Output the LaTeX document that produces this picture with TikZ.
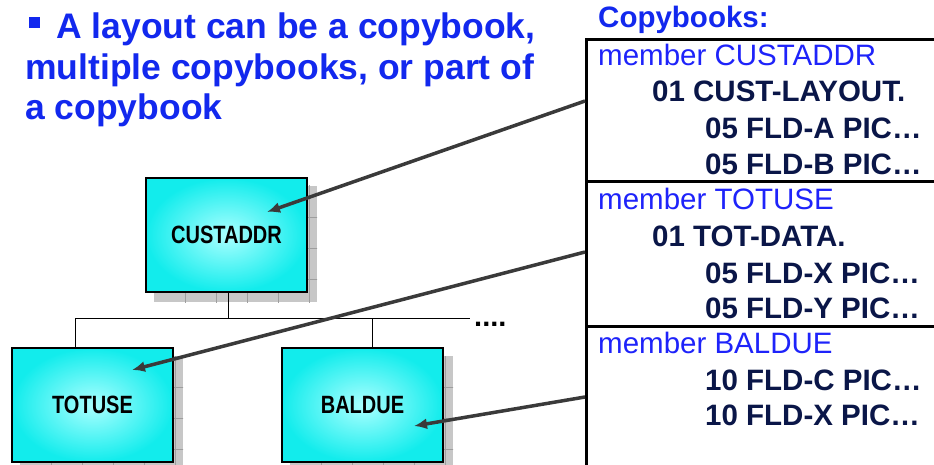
\documentclass[tikz,border=0pt]{standalone}
\usepackage{fontspec}
\setmainfont{Liberation Sans}
\newfontfamily\narrowfont[FakeStretch=0.8]{Liberation Sans}
\usetikzlibrary{arrows.meta,backgrounds}
\definecolor{titleblue}{RGB}{18,40,238}
\definecolor{memblue}{RGB}{30,35,250}
\definecolor{codenavy}{RGB}{10,22,72}
\definecolor{arrgray}{RGB}{58,58,58}
\definecolor{cyanedge}{RGB}{18,236,236}
\definecolor{cyanmid}{RGB}{170,255,255}
\tikzset{
  titletxt/.style={anchor=base west,inner sep=0pt,text=titleblue,font=\fontsize{35.5}{42}\selectfont\bfseries},
  memtxt/.style={anchor=base west,inner sep=0pt,text=memblue,font=\fontsize{29.5}{34}\selectfont},
  codetxt/.style={anchor=base west,inner sep=0pt,text=codenavy,font=\fontsize{29.5}{34}\selectfont\bfseries},
  layoutbox/.style={draw=black,line width=2pt,minimum width=161pt,minimum height=114pt,inner sep=0pt,
     inner color=cyanmid,outer color=cyanedge,font=\narrowfont\fontsize{25}{30}\selectfont\bfseries},
  treeline/.style={draw=black,line width=1pt},
  panelline/.style={draw=black,line width=3pt},
  arr/.style={draw=arrgray,line width=3.5pt,-{Latex[length=13pt,width=11pt]}},
  shadowfill/.style={fill=black!22},
  shadowgrid/.style={draw=black!38,line width=0.7pt}
}
\newcommand{\boxshadow}[1]{%
  \begin{scope}
    \path[shadowfill] ([shift={(9,9)}]#1.north west) rectangle ([shift={(9,9)}]#1.south east);
    \clip ([shift={(9,9)}]#1.north west) rectangle ([shift={(9,9)}]#1.south east);
    \foreach \k in {1,...,5} {
      \draw[shadowgrid] ([shift={(9+31*\k,0)}]#1.north west) -- ([shift={(9+31*\k,200)}]#1.north west);
    }
    \foreach \k in {1,...,3} {
      \draw[shadowgrid] ([shift={(0,9+31*\k)}]#1.north west) -- ([shift={(200,9+31*\k)}]#1.north west);
    }
  \end{scope}}
\begin{document}
\begin{tikzpicture}[x=1pt,y=-1pt]
\useasboundingbox (0,0) rectangle (934,465);
% title
\path[fill=titleblue] (29,17) rectangle (40,28);
\node[titletxt] (t1) at (56,39) {A layout can be a copybook,};
\node[titletxt] (t2) at (25,80) {multiple copybooks, or part of};
\node[titletxt] (t3) at (25,120) {a copybook};
% layout boxes
\node[layoutbox] (cust) at (226.5,235) {CUSTADDR};
\node[layoutbox] (tot) at (92.5,405) {TOTUSE};
\node[layoutbox] (bal) at (362.5,405) {BALDUE};
\begin{scope}[on background layer]
  \boxshadow{cust}
  \boxshadow{tot}
  \boxshadow{bal}
\end{scope}
% tree
\coordinate (busL) at (75,318);
\coordinate (busC) at (228,318);
\coordinate (busB) at (372,318);
\coordinate (busR) at (470,318);
\draw[treeline] (busL) -- (busR);
\draw[treeline] (cust.south -| busC) -- (busC);
\draw[treeline] (busL) -- (busL |- tot.north);
\draw[treeline] (busB) -- (busB |- bal.north);
\node[anchor=base west,inner sep=0pt,font=\fontsize{29}{34}\selectfont\bfseries] (dots) at (474,326) {....};
% copybooks panel
\node[anchor=base west,inner sep=0pt,text=titleblue,font=\fontsize{29.5}{34}\selectfont\bfseries] (cbh) at (598,28) {Copybooks:};
\coordinate (pTL) at (586,40);
\coordinate (pTR) at (934,40);
\coordinate (pBL) at (586,465);
\coordinate (s1L) at (586,182);
\coordinate (s1R) at (934,182);
\coordinate (s2L) at (586,326);
\coordinate (s2R) at (934,326);
\draw[panelline] (pBL) -- (pTL) -- (pTR);
\draw[panelline] (s1L) -- (s1R);
\draw[panelline] (s2L) -- (s2R);
\node[memtxt] (m1) at (598,66) {member CUSTADDR};
\node[codetxt] (c11) at (652,102) {01 CUST-LAYOUT.};
\node[codetxt] (c12) at (705,139) {05 FLD-A PIC…};
\node[codetxt] (c13) at (705,175) {05 FLD-B PIC…};
\node[memtxt] (m2) at (598,210) {member TOTUSE};
\node[codetxt] (c21) at (652,246) {01 TOT-DATA.};
\node[codetxt] (c22) at (705,283) {05 FLD-X PIC…};
\node[codetxt] (c23) at (705,318) {05 FLD-Y PIC…};
\node[memtxt] (m3) at (598,353) {member BALDUE};
\node[codetxt] (c31) at (705,390) {10 FLD-C PIC…};
\node[codetxt] (c32) at (705,425) {10 FLD-X PIC…};
% arrows
\coordinate (a1s) at (585,101);
\coordinate (a1e) at (267,212);
\coordinate (a2s) at (585,252);
\coordinate (a2e) at (132,370);
\coordinate (a3s) at (585,397);
\coordinate (a3e) at (414,426);
\draw[arr] (a1s) -- (a1e);
\draw[arr] (a2s) -- (a2e);
\draw[arr] (a3s) -- (a3e);
\end{tikzpicture}
\end{document}
